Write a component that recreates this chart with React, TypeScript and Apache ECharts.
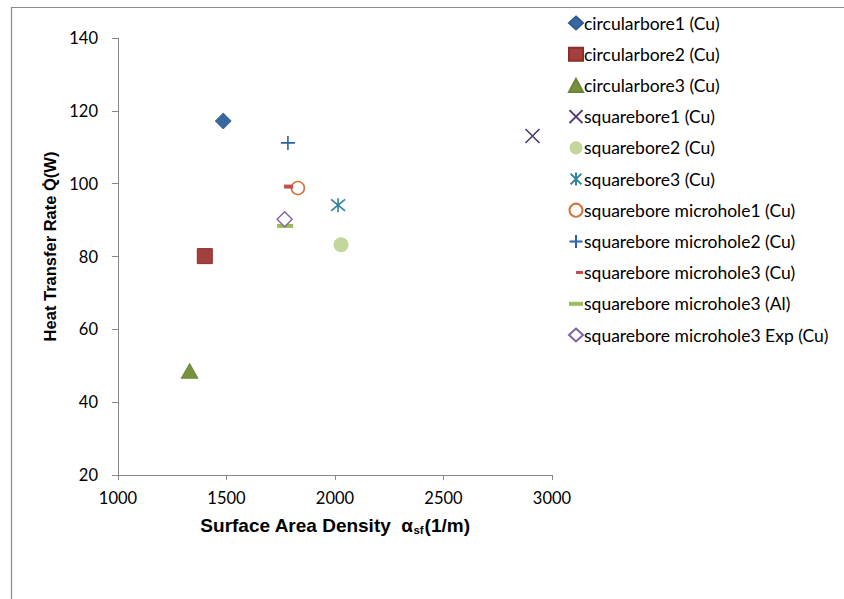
import React, { useEffect, useRef } from "react";
import * as echarts from "echarts";

const seriesNames = [
  "circularbore1 (Cu)",
  "circularbore2 (Cu)",
  "circularbore3 (Cu)",
  "squarebore1 (Cu)",
  "squarebore2 (Cu)",
  "squarebore3 (Cu)",
  "squarebore microhole1 (Cu)",
  "squarebore microhole2 (Cu)",
  "squarebore microhole3 (Cu)",
  "squarebore microhole3 (Al)",
  "squarebore microhole3 Exp (Cu)",
];
const surfaceAreaDensity = [1485, 1400, 1330, 2910, 2028, 2014, 1829, 1783, 1786, 1770, 1768];
const heatTransferRate = [117.2, 80.1, 48.6, 113.1, 83.2, 94.1, 98.8, 111.2, 99.2, 88.4, 90.2];
const xTicks = { min: 1000, max: 3000, interval: 500 };
const yTicks = { min: 20, max: 140, interval: 20 };

const markerStyles: any[] = [
  { symbol: "diamond", symbolSize: [16, 16], legendIcon: "diamond", itemStyle: { color: "#3a67a0", borderColor: "#2f5b92", borderWidth: 0.8 } },
  { symbol: "rect", symbolSize: [15, 15], legendIcon: "rect", itemStyle: { color: "#a3403d", borderColor: "#8a2c2a", borderWidth: 1 } },
  { symbol: "triangle", symbolSize: [17, 15], legendIcon: "triangle", itemStyle: { color: "#76923c", borderColor: "#6a8535", borderWidth: 0.8 } },
  { symbol: "path://M0,0L10,10M10,0L0,10", symbolSize: [14, 14], legendIcon: "path://M0,0L10,10M10,0L0,10", itemStyle: { color: "transparent", borderColor: "#4e3a72", borderWidth: 1.6 } },
  { symbol: "circle", symbolSize: [15, 15], legendIcon: "circle", itemStyle: { color: "#c3d69b" } },
  { symbol: "path://M0,0L10,10M10,0L0,10M5,-1L5,11", symbolSize: [14, 14], legendIcon: "path://M0,0L10,10M10,0L0,10M5,-1L5,11", itemStyle: { color: "transparent", borderColor: "#31849b", borderWidth: 1.6 } },
  { symbol: "circle", symbolSize: [13, 13], legendIcon: "circle", itemStyle: { color: "#ffffff", borderColor: "#d2763a", borderWidth: 1.6 } },
  { symbol: "path://M5,0L5,10M0,5L10,5", symbolSize: [14, 14], legendIcon: "path://M5,0L5,10M0,5L10,5", itemStyle: { color: "transparent", borderColor: "#2c62a8", borderWidth: 1.6 } },
  { symbol: "path://M0,0L10,0L10,4L0,4Z", symbolSize: [9, 4], legendIcon: "path://M0,1.4L0.3,1.4L0.3,1.6L0,1.6ZM7,0L14,0L14,3L7,3Z", itemStyle: { color: "#c0504d" } },
  { symbol: "path://M0,0L16,0L16,4L0,4Z", symbolSize: [16, 4], legendIcon: "path://M0,0L14,0L14,4L0,4Z", itemStyle: { color: "#9bbb59" } },
  { symbol: "diamond", symbolSize: [15, 15], legendIcon: "diamond", itemStyle: { color: "#ffffff", borderColor: "#7f64a2", borderWidth: 1.4 } },
];

export default function App() {
  const ref = useRef<HTMLDivElement>(null);
  useEffect(() => {
    if (!ref.current) return;
    const chart = echarts.init(ref.current, undefined, { renderer: "svg" });
    const series = seriesNames.map((name, i) => ({
      name,
      type: "scatter",
      data: [[surfaceAreaDensity[i], heatTransferRate[i]]],
      symbol: markerStyles[i].symbol,
      symbolSize: markerStyles[i].symbolSize,
      legendIcon: markerStyles[i].legendIcon,
      itemStyle: { ...markerStyles[i].itemStyle, opacity: 1 },
      emphasis: { disabled: true },
    }));
    chart.setOption({
      animation: false,
      backgroundColor: "#ffffff",
      grid: { left: 118, right: 292, top: 38, bottom: 124 },
      graphic: [
        {
          type: "rect",
          shape: { x: 11.5, y: 7.5, width: 1000, height: 1000 },
          style: { fill: "none", stroke: "#8c8c8c", lineWidth: 1.2 },
          silent: true,
          z: -1,
        },
      ],
      legend: {
        orient: "vertical",
        left: 563,
        top: 9,
        itemWidth: 14,
        itemHeight: 13,
        itemGap: 13.2,
        selectedMode: false,
        textStyle: { fontFamily: "Lato", fontSize: 17.5, color: "#000", padding: [0, 0, 0, -4] },
        data: seriesNames.map((name, i) => ({ name, icon: markerStyles[i].legendIcon })),
      },
      xAxis: {
        type: "value",
        min: xTicks.min,
        max: xTicks.max,
        interval: xTicks.interval,
        splitLine: { show: false },
        axisLine: { show: true, lineStyle: { color: "#868686", width: 1 } },
        axisTick: { show: true, inside: false, length: 5, lineStyle: { color: "#868686" } },
        axisLabel: { margin: 14, fontFamily: "Lato", fontSize: 16.5, color: "#000", formatter: (v: number) => String(v) },
        name: "{a|Surface Area Density  α}{s|sf}{a|(1/m)}",
        nameLocation: "middle",
        nameGap: 40,
        nameTextStyle: {
          rich: {
            a: { fontFamily: "Liberation Sans", fontWeight: "bold", fontSize: 19, color: "#000" },
            s: { fontFamily: "Liberation Sans", fontWeight: "bold", fontSize: 11.5, color: "#000", padding: [9, 1, 0, 0] },
          },
        },
      },
      yAxis: {
        type: "value",
        min: yTicks.min,
        max: yTicks.max,
        interval: yTicks.interval,
        splitLine: { show: false },
        axisLine: { show: true, lineStyle: { color: "#868686", width: 1 } },
        axisTick: { show: true, inside: false, length: 6, lineStyle: { color: "#868686" } },
        axisLabel: { margin: 20, fontFamily: "Lato", fontSize: 16.5, color: "#000" },
        name: "Heat Transfer Rate Q\u0307(W)",
        nameLocation: "middle",
        nameGap: 54,
        nameTextStyle: {
          fontFamily: "Liberation Sans",
          fontWeight: "bold",
          fontSize: 16.5,
          color: "#000",
          padding: [0, 0, 0, 20],
        },
      },
      series,
    });
    return () => chart.dispose();
  }, []);
  return <div ref={ref} style={{ position: "fixed", left: 0, top: 0, width: 844, height: 599 }} />;
}
